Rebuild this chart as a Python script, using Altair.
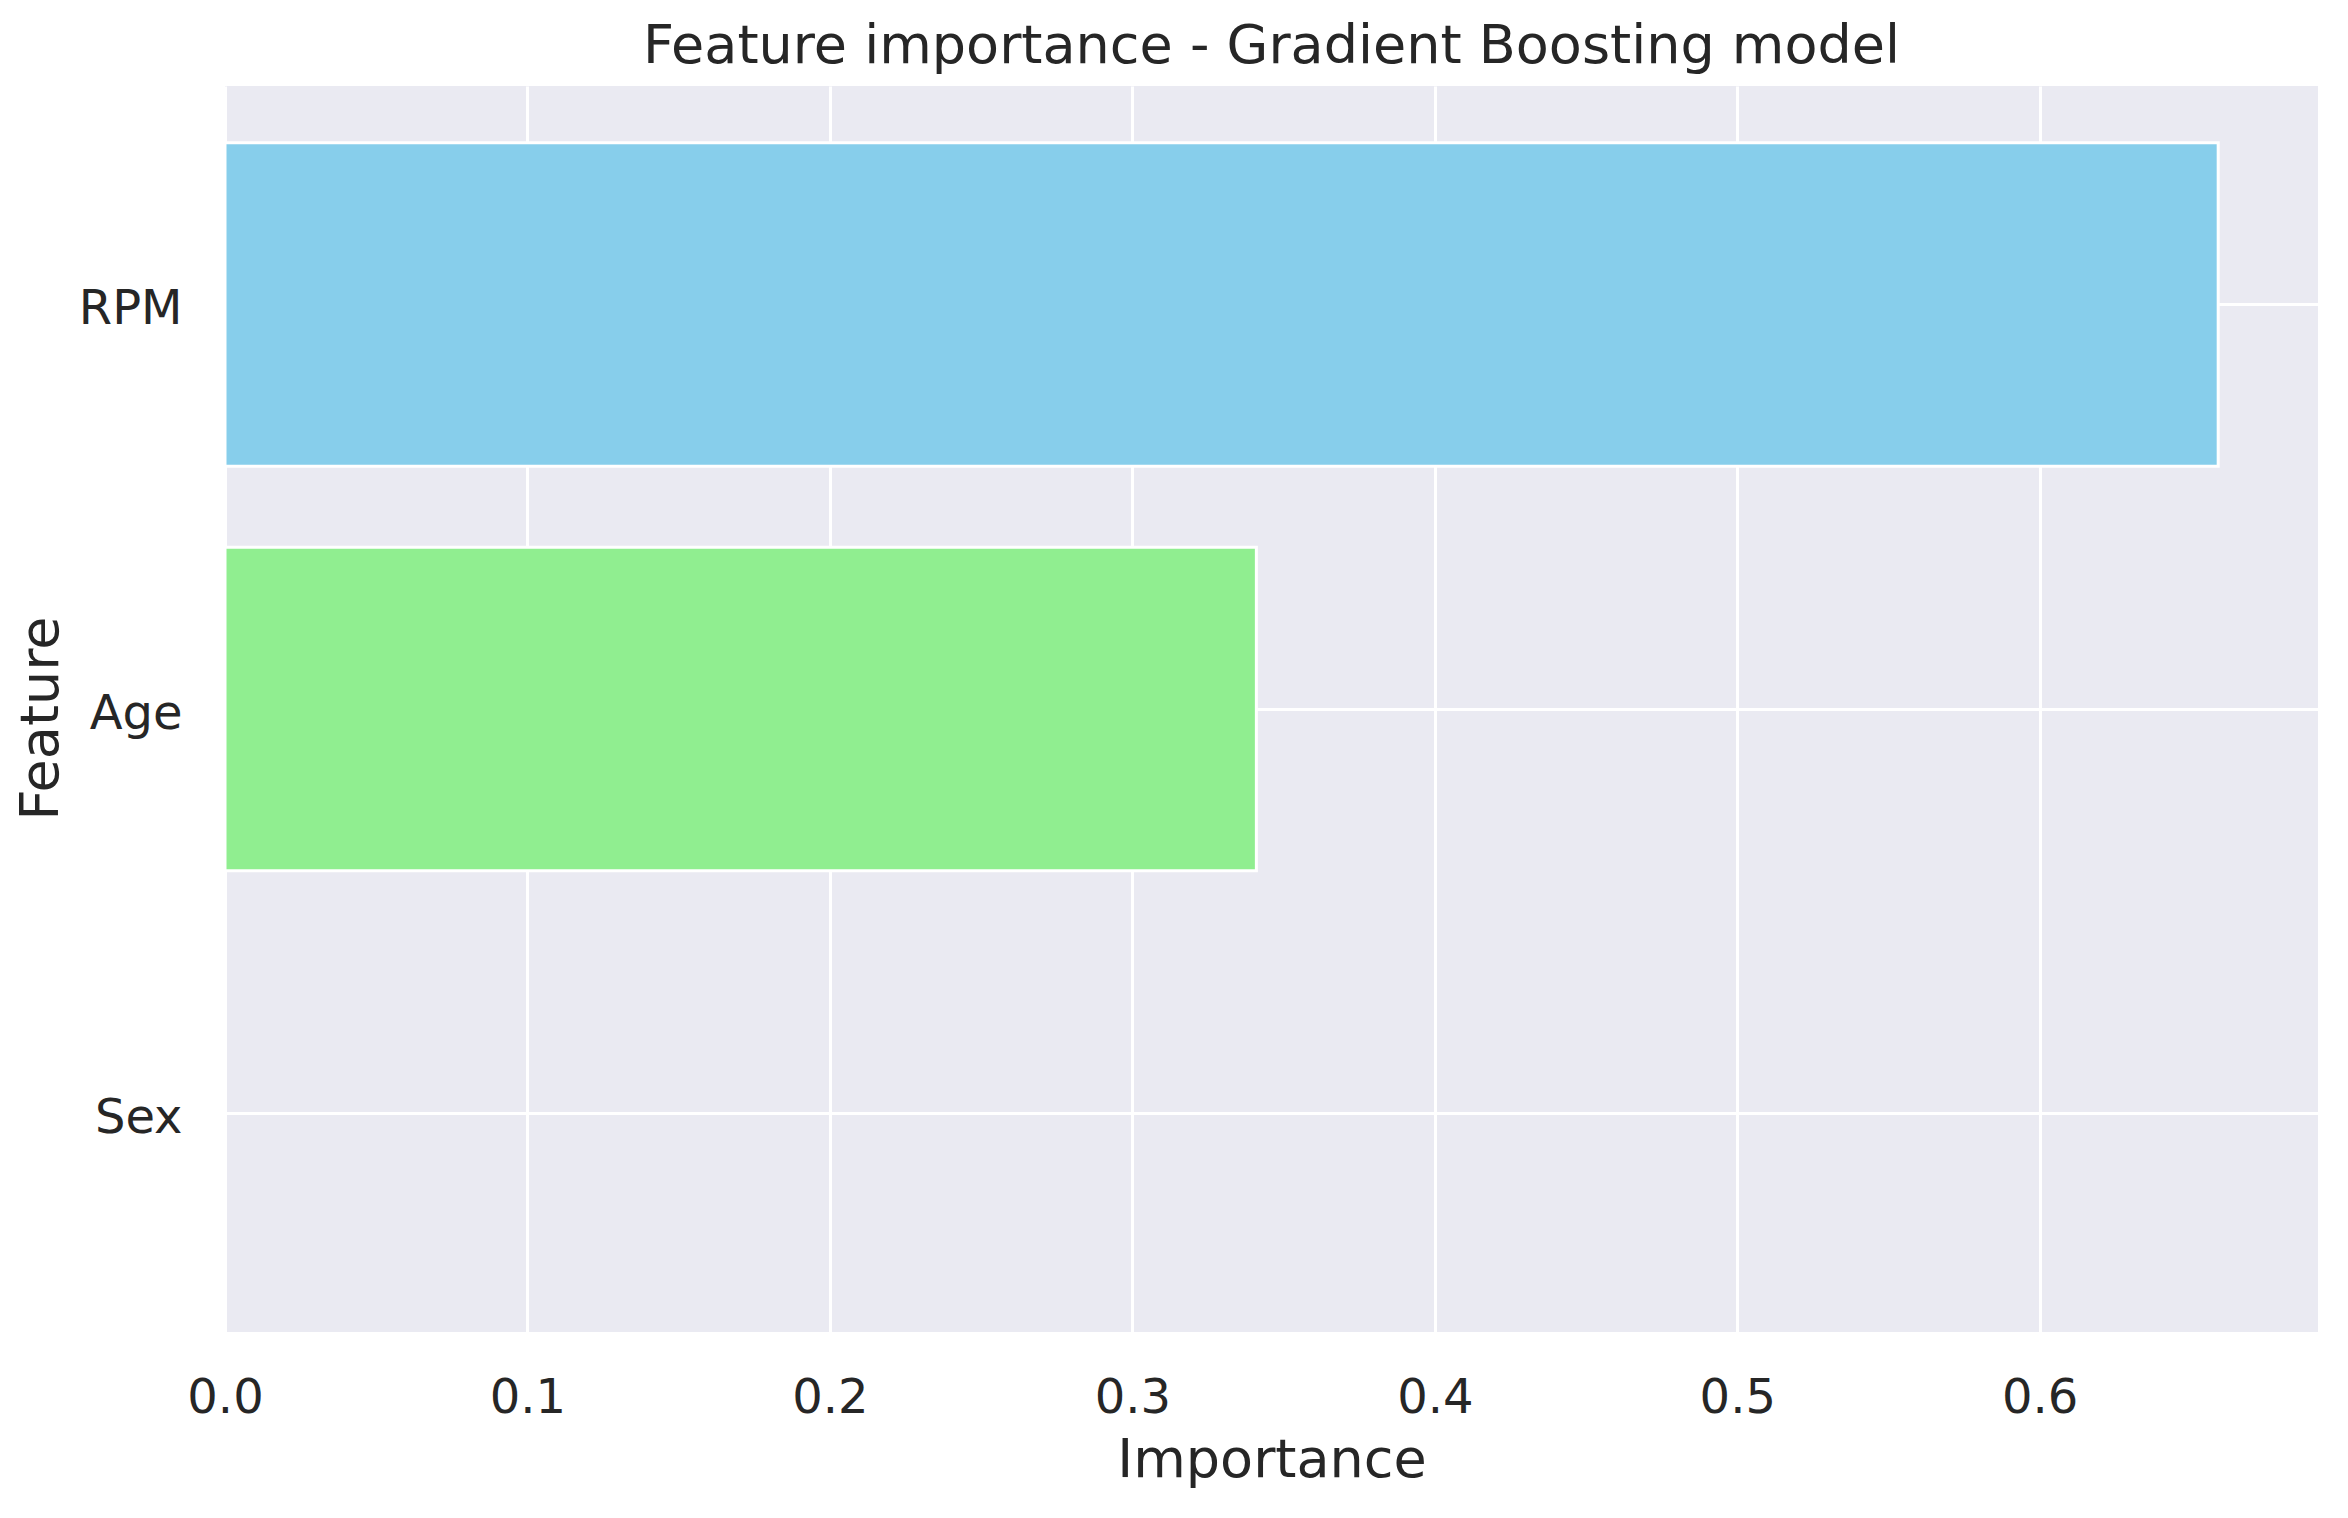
import altair as alt
import pandas as pd

features = ["RPM", "Age", "Sex"]
importance = [0.659, 0.341, 0.0]
bar_colors = ["#87CEEB", "#90EE90", "#FA8072"]
x_ticks = [0.0, 0.1, 0.2, 0.3, 0.4, 0.5, 0.6]

df = pd.DataFrame({"Feature": features, "Importance": importance, "Color": bar_colors})

TEXT = "#262626"
FONT = "DejaVu Sans"

chart = (
    alt.Chart(df)
    .mark_bar(stroke="white", strokeWidth=3)
    .encode(
        x=alt.X(
            "Importance:Q",
            scale=alt.Scale(domain=[0, 0.692], nice=False, zero=True),
            axis=alt.Axis(
                values=x_ticks,
                format=".1f",
                title="Importance",
                labelPadding=80,
                labelBaseline="alphabetic",
                labelFlush=False,
                titleY=144,
                titleBaseline="alphabetic",
            ),
        ),
        y=alt.Y(
            "Feature:N",
            sort=features,
            scale=alt.Scale(paddingInner=0.2, paddingOuter=0.14),
            axis=alt.Axis(
                title="Feature",
                labelPadding=43,
                labelBaseline="alphabetic",
                labelOffset=19.5,
                titleX=-168,
                titleY=632,
                titleBaseline="alphabetic",
            ),
        ),
        color=alt.Color("Color:N", scale=None),
    )
    .properties(
        width=2093,
        height=1246,
        autosize=alt.AutoSizeParams(type="none"),
        padding={"left": 217, "top": 78, "right": 22, "bottom": 178},
        title=alt.TitleParams(
            "Feature importance - Gradient Boosting model",
            fontSize=54,
            font=FONT,
            fontWeight="normal",
            color=TEXT,
            anchor="middle",
            offset=12,
        ),
    )
    .configure_view(fill="#EAEAF2", stroke=None)
    .configure_axis(
        domain=False,
        ticks=False,
        grid=True,
        gridColor="white",
        gridWidth=3,
        gridOpacity=1,
        labelFont=FONT,
        labelFontSize=48,
        labelColor=TEXT,
        titleFont=FONT,
        titleFontSize=54,
        titleFontWeight="normal",
        titleColor=TEXT,
    )
)

chart.save("out.html", embed_options={"renderer": "svg", "actions": False})
